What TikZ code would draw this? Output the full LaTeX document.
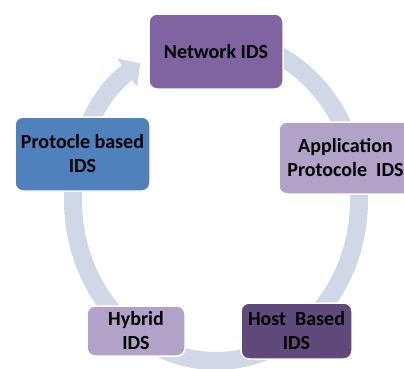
\documentclass[tikz,border=0pt]{standalone}
\usepackage{fontspec}
\setmainfont{Carlito}
\usetikzlibrary{arrows.meta,positioning}
\definecolor{netpurple}{RGB}{128,100,162}
\definecolor{lilac}{RGB}{179,162,199}
\definecolor{protoblue}{RGB}{79,129,189}
\definecolor{hostpurple}{RGB}{96,74,123}
\definecolor{ringgray}{RGB}{208,216,232}

\begin{document}
\begin{tikzpicture}[x=1pt,y=1pt,
ids/.style={draw=white, line width=1.5pt, rounded corners=8pt, align=center, inner sep=0pt, font=\fontsize{20}{24}\selectfont\bfseries},
ring/.style={draw=ringgray, line width=18pt, -{Triangle[length=16pt,width=34pt]}}
]
\clip (0,0) rectangle (404,368);
\coordinate (hub) at (216,168);
\draw[ring] (hub) ++(90:143pt and 161pt) arc[start angle=90, end angle=-238, x radius=143pt, y radius=161pt];

\node[ids, fill=netpurple, minimum width=134pt, minimum height=75pt] (network) at (216,316.5) {Network IDS};
\node[ids, fill=lilac, minimum width=133pt, minimum height=72pt] (application) at (345.5,210) {Application\\Protocole~ IDS};
\node[ids, fill=hostpurple, minimum width=111pt, minimum height=56pt] (host) at (296.5,37) {Host~ Based\\IDS};
\node[ids, fill=lilac, minimum width=98pt, minimum height=50pt] (hybrid) at (136,37) {Hybrid\\IDS};
\node[ids, fill=protoblue, minimum width=135pt, minimum height=74pt] (protocol) at (82.5,214) {Protocle based\\IDS};
\end{tikzpicture}
\end{document}
